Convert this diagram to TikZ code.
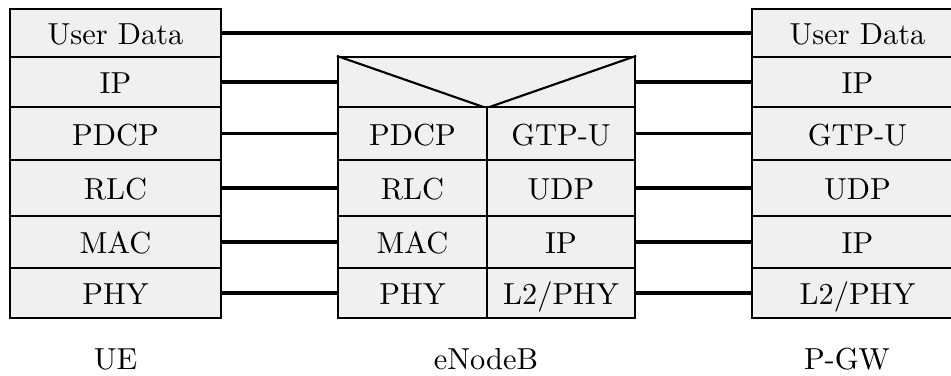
\documentclass[tikz,border=0pt]{standalone}
\newcommand\pxu{0.329pt}
\tikzset{
  layer/.style={draw, line width=0.7pt, fill=black!6, inner sep=0pt,
    text height=7.8pt, text depth=0pt},
  link/.style={line width=1.1pt},
  caption/.style={anchor=base, inner sep=0pt}
}
% one protocol layer: name, x1, y1, x2, y2, text
\newcommand\layercell[6]{%
  \node[layer, minimum width={(#4-#2)*\pxu}, minimum height={(#5-#3)*\pxu}]
    (#1) at ({(#2+#4)/2},{(#3+#5)/2}) {#6};}
\begin{document}
\begin{tikzpicture}[x=\pxu, y=-\pxu]
\useasboundingbox (0,0) rectangle (951,376);

% UE stack
\layercell{ue1}{10}{9}{221}{57}{User Data}
\layercell{ue2}{10}{57}{221}{107}{IP}
\layercell{ue3}{10}{107}{221}{160}{PDCP}
\layercell{ue4}{10}{160}{221}{216}{RLC}
\layercell{ue5}{10}{216}{221}{268}{MAC}
\layercell{ue6}{10}{268}{221}{318}{PHY}

% eNodeB stack
\layercell{enb0}{338}{57}{635}{107}{}
\draw[line width=0.7pt] (enb0.north west) -- (enb0.south) -- (enb0.north east);
\layercell{enbL3}{338}{107}{487}{160}{PDCP}
\layercell{enbL4}{338}{160}{487}{216}{RLC}
\layercell{enbL5}{338}{216}{487}{268}{MAC}
\layercell{enbL6}{338}{268}{487}{318}{PHY}
\layercell{enbR3}{487}{107}{635}{160}{GTP-U}
\layercell{enbR4}{487}{160}{635}{216}{UDP}
\layercell{enbR5}{487}{216}{635}{268}{IP}
\layercell{enbR6}{487}{268}{635}{318}{L2/PHY}

% P-GW stack
\layercell{gw1}{752}{9}{963}{57}{User Data}
\layercell{gw2}{752}{57}{963}{107}{IP}
\layercell{gw3}{752}{107}{963}{160}{GTP-U}
\layercell{gw4}{752}{160}{963}{216}{UDP}
\layercell{gw5}{752}{216}{963}{268}{IP}
\layercell{gw6}{752}{268}{963}{318}{L2/PHY}

% peer links
\draw[link] (ue1) -- (gw1);
\draw[link] (ue2) -- (enb0);
\draw[link] (enb0) -- (gw2);
\draw[link] (ue3) -- (enbL3);
\draw[link] (ue4) -- (enbL4);
\draw[link] (ue5) -- (enbL5);
\draw[link] (ue6) -- (enbL6);
\draw[link] (enbR3) -- (gw3);
\draw[link] (enbR4) -- (gw4);
\draw[link] (enbR5) -- (gw5);
\draw[link] (enbR6) -- (gw6);

% entity names
\node[caption] (ue) at (115.5,370) {UE};
\node[caption] (enb) at (486,370) {eNodeB};
\node[caption] (gw) at (847,370) {P-GW};
\end{tikzpicture}
\end{document}
